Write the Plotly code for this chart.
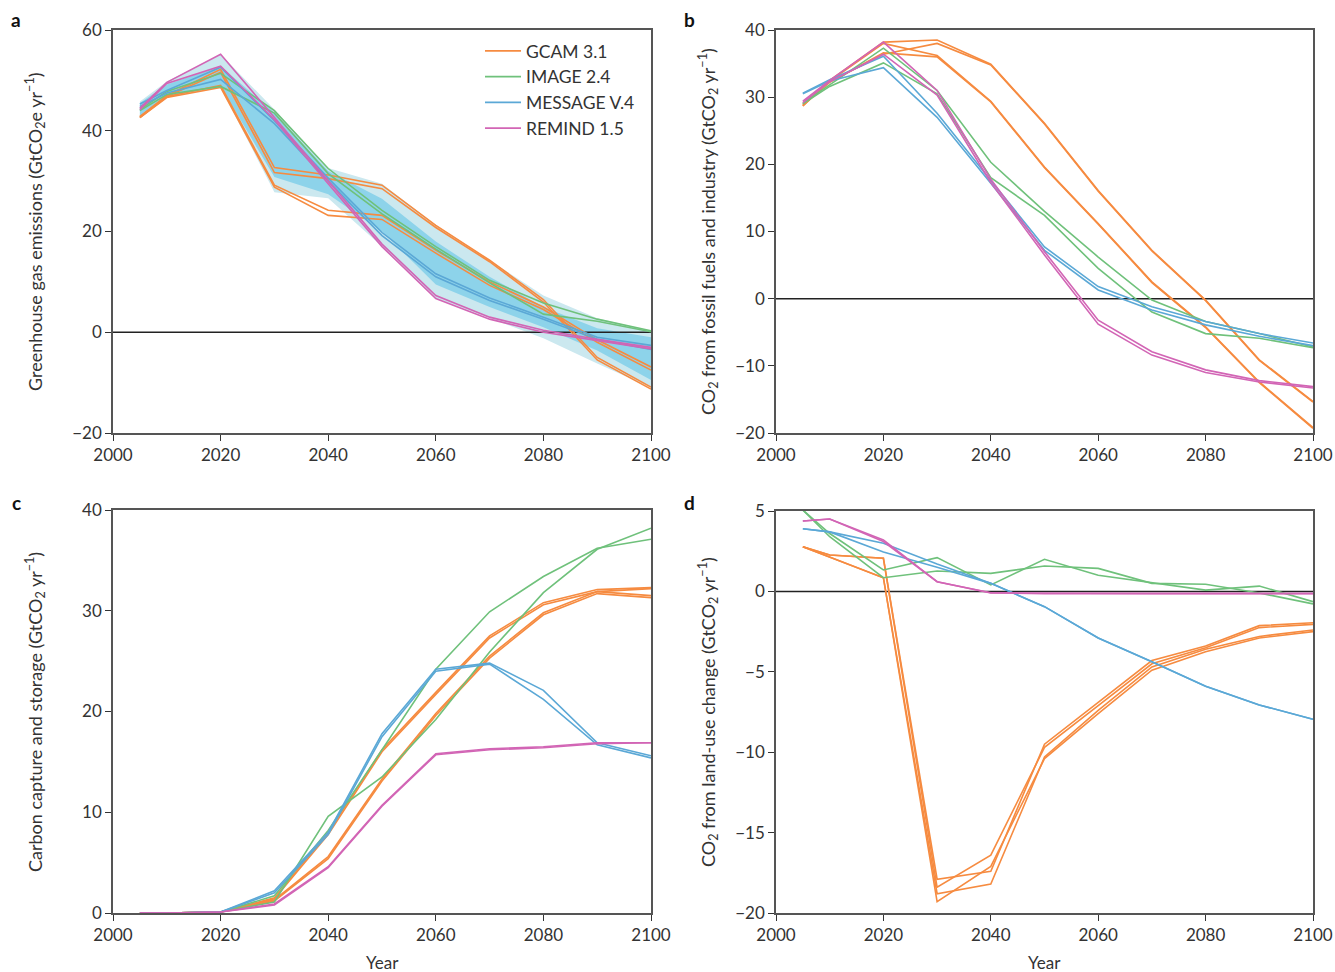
import plotly.graph_objects as go

W, H = 1335, 972

years = [2005, 2010, 2020, 2030, 2040, 2050, 2060, 2070, 2080, 2090, 2100]
models = ["GCAM 3.1", "IMAGE 2.4", "MESSAGE V.4", "REMIND 1.5"]
colors = {"GCAM 3.1": "#f68b40", "IMAGE 2.4": "#6fc17b",
          "MESSAGE V.4": "#5ba8d6", "REMIND 1.5": "#d265b5"}

# ---------------- panel a: GHG emissions ----------------
a_gcam = [
    [42.8, 47.0, 52.2, 32.7, 31.2, 29.2, 21.2, 14.3, 6.5, -5.0, -10.9],
    [42.6, 46.8, 51.6, 31.7, 30.5, 28.5, 20.8, 14.0, 6.0, -5.5, -11.3],
    [42.8, 46.8, 49.0, 29.2, 24.2, 23.2, 16.3, 10.0, 5.0, -1.5, -6.9],
    [42.6, 46.6, 48.6, 28.8, 23.2, 22.4, 15.7, 9.3, 4.5, -2.0, -7.5],
]
a_image = [
    [44.2, 47.8, 51.4, 44.0, 32.5, 24.2, 17.0, 10.3, 5.8, 2.6, 0.3],
    [44.0, 47.2, 48.8, 43.5, 31.5, 23.5, 16.5, 9.8, 3.6, 2.2, 0.1],
]
a_message = [
    [45.3, 48.0, 52.6, 42.0, 30.6, 19.8, 11.6, 6.8, 3.0, -1.0, -2.6],
    [44.8, 47.5, 50.2, 41.4, 30.0, 19.2, 11.0, 6.3, 2.6, -1.4, -3.4],
]
a_remind = [
    [44.5, 49.6, 55.2, 42.7, 30.0, 17.5, 7.3, 3.0, 0.4, -1.4, -3.0],
    [44.2, 49.4, 52.8, 42.2, 29.5, 17.0, 6.7, 2.6, 0.0, -1.6, -3.3],
]
a_outer_hi = [45.8, 49.8, 55.2, 44.2, 32.6, 29.5, 21.3, 14.3, 7.3, 2.8, 0.3]
a_outer_lo = [42.6, 46.6, 48.6, 27.8, 26.6, 17.0, 6.8, 2.8, -1.2, -6.2, -11.0]
a_inner_hi = [45.5, 49.2, 52.8, 43.6, 32.0, 26.5, 18.0, 11.0, 5.0, 0.8, -1.0]
a_inner_lo = [42.8, 46.8, 48.8, 30.8, 27.4, 20.0, 9.5, 5.0, 1.0, -3.6, -9.5]

# ---------------- panel b: CO2 fossil fuels & industry ----------------
b_gcam = [
    [28.7, 32.5, 38.2, 38.5, 34.9, 26.1, 16.1, 7.2, -0.2, -9.1, -15.3],
    [28.9, 32.3, 36.4, 38.0, 34.8, 26.0, 16.0, 7.1, -0.3, -9.2, -15.4],
    [28.7, 32.4, 38.0, 36.2, 29.4, 19.6, 11.2, 2.5, -4.2, -12.4, -19.2],
    [28.9, 32.2, 36.6, 36.0, 29.3, 19.5, 11.1, 2.4, -4.3, -12.5, -19.3],
]
b_image = [
    [29.1, 31.8, 37.3, 31.0, 20.3, 13.0, 6.2, -0.2, -3.4, -5.2, -7.2],
    [29.0, 31.6, 35.1, 30.5, 18.0, 12.4, 4.5, -2.0, -5.2, -5.9, -7.3],
]
b_message = [
    [30.6, 32.6, 36.1, 27.6, 17.6, 7.7, 1.8, -1.2, -3.4, -5.2, -6.6],
    [30.5, 32.4, 34.4, 27.0, 17.2, 7.2, 1.3, -1.7, -3.9, -5.6, -7.0],
]
b_remind = [
    [29.4, 32.5, 38.2, 31.0, 17.8, 7.0, -3.2, -7.9, -10.6, -12.2, -13.1],
    [29.2, 32.3, 36.4, 30.3, 17.3, 6.5, -3.8, -8.4, -11.0, -12.4, -13.3],
]

# ---------------- panel c: CCS ----------------
c_gcam = [
    [0.0, 0.0, 0.1, 1.5, 8.0, 16.2, 21.9, 27.5, 30.8, 32.1, 32.3],
    [0.0, 0.0, 0.1, 1.4, 7.8, 16.0, 21.7, 27.3, 30.6, 31.9, 32.2],
    [0.0, 0.0, 0.1, 1.3, 5.6, 13.3, 19.8, 25.5, 29.8, 31.9, 31.5],
    [0.0, 0.0, 0.1, 1.2, 5.4, 13.1, 19.6, 25.3, 29.6, 31.7, 31.3],
]
c_image = [
    [0.0, 0.0, 0.1, 1.1, 9.6, 13.5, 19.2, 25.9, 31.8, 36.1, 38.2],
    [0.0, 0.0, 0.1, 1.7, 8.2, 16.2, 24.2, 29.9, 33.4, 36.2, 37.1],
]
c_message = [
    [0.0, 0.0, 0.1, 2.2, 8.0, 17.8, 24.2, 24.8, 22.1, 16.9, 15.6],
    [0.0, 0.0, 0.1, 2.0, 7.8, 17.5, 24.0, 24.7, 21.2, 16.7, 15.4],
]
c_remind = [
    [0.0, 0.0, 0.1, 0.9, 4.6, 10.7, 15.8, 16.3, 16.5, 16.9, 16.9],
    [0.0, 0.0, 0.1, 0.8, 4.5, 10.6, 15.7, 16.2, 16.4, 16.8, 16.9],
]

# ---------------- panel d: CO2 land-use change ----------------
d_gcam = [
    [2.78, 2.26, 2.06, -17.9, -17.4, -9.5, -6.9, -4.3, -3.4, -2.13, -1.95],
    [2.78, 2.26, 2.06, -18.4, -16.4, -9.7, -7.1, -4.5, -3.5, -2.25, -2.05],
    [2.78, 2.15, 0.85, -18.8, -18.2, -10.3, -7.4, -4.7, -3.6, -2.8, -2.4],
    [2.78, 2.15, 0.85, -19.3, -17.1, -10.4, -7.6, -4.9, -3.75, -2.9, -2.5],
]
d_image = [
    [5.06, 3.6, 1.33, 2.1, 0.4, 2.0, 1.0, 0.56, 0.08, 0.33, -0.64],
    [5.06, 3.4, 0.85, 1.27, 1.12, 1.58, 1.43, 0.5, 0.44, -0.1, -0.78],
]
d_message = [
    [3.9, 3.7, 3.0, 1.7, 0.5, -0.95, -2.9, -4.37, -5.9, -7.06, -7.95],
    [3.9, 3.7, 2.45, 1.5, 0.5, -0.95, -2.9, -4.37, -5.9, -7.06, -7.95],
]
d_remind = [
    [4.38, 4.5, 3.2, 0.6, -0.08, -0.15, -0.15, -0.15, -0.15, -0.15, -0.15],
    [4.38, 4.5, 3.1, 0.6, -0.1, -0.12, -0.12, -0.12, -0.12, -0.12, -0.12],
]

x_ticks = [2000, 2020, 2040, 2060, 2080, 2100]
a_ticks = [-20, 0, 20, 40, 60]
b_ticks = [-20, -10, 0, 10, 20, 30, 40]
c_ticks = [0, 10, 20, 30, 40]
d_ticks = [-20, -15, -10, -5, 0, 5]

# panel pixel boxes on the page (left, right, top, bottom)
boxes = {
    1: (113, 651, 30, 433),
    2: (776, 1313, 30, 433),
    3: (113, 651, 510, 913),
    4: (776, 1313, 511, 913),
}

def px(x):
    return x / W

def py(y):
    return 1 - y / H

fig = go.Figure()

def ax(n):
    return ("x" if n == 1 else f"x{n}", "y" if n == 1 else f"y{n}")

def add_band(n, lo, hi, color):
    xa, ya = ax(n)
    fig.add_trace(go.Scatter(x=years, y=lo, mode="lines", line=dict(width=0),
                             showlegend=False, hoverinfo="skip", xaxis=xa, yaxis=ya))
    fig.add_trace(go.Scatter(x=years, y=hi, mode="lines", line=dict(width=0),
                             fill="tonexty", fillcolor=color, showlegend=False,
                             hoverinfo="skip", xaxis=xa, yaxis=ya))

def add_zero(n):
    xa, ya = ax(n)
    fig.add_trace(go.Scatter(x=[2000, 2100], y=[0, 0], mode="lines",
                             line=dict(color="#222222", width=1.5),
                             showlegend=False, hoverinfo="skip", xaxis=xa, yaxis=ya))

def add_lines(n, data, legend=False):
    xa, ya = ax(n)
    for m in models:
        for i, series in enumerate(data[m]):
            fig.add_trace(go.Scatter(
                x=years, y=series, mode="lines", name=m, legendgroup=m,
                showlegend=(legend and i == 0),
                line=dict(color=colors[m], width=1.6),
                xaxis=xa, yaxis=ya))

add_band(1, a_outer_lo, a_outer_hi, "#cbe8ef")
add_band(1, a_inner_lo, a_inner_hi, "#8dd3ea")
add_zero(1)
add_lines(1, {"GCAM 3.1": a_gcam, "IMAGE 2.4": a_image,
              "MESSAGE V.4": a_message, "REMIND 1.5": a_remind}, legend=True)
add_zero(2)
add_lines(2, {"GCAM 3.1": b_gcam, "IMAGE 2.4": b_image,
              "MESSAGE V.4": b_message, "REMIND 1.5": b_remind})
add_lines(3, {"GCAM 3.1": c_gcam, "IMAGE 2.4": c_image,
              "MESSAGE V.4": c_message, "REMIND 1.5": c_remind})
add_zero(4)
add_lines(4, {"GCAM 3.1": d_gcam, "IMAGE 2.4": d_image,
              "MESSAGE V.4": d_message, "REMIND 1.5": d_remind})

font_family = "Lato, 'Open Sans', sans-serif"
tick_font = dict(family=font_family, size=17, color="#333333")

yranges = {1: [-20, 60], 2: [-20, 40], 3: [0, 40], 4: [-20, 5]}
yticks = {1: a_ticks, 2: b_ticks, 3: c_ticks, 4: d_ticks}

layout = {}
for n, (l, r, t, b) in boxes.items():
    xkey = "xaxis" if n == 1 else f"xaxis{n}"
    ykey = "yaxis" if n == 1 else f"yaxis{n}"
    xa, ya = ax(n)
    common = dict(showgrid=False, zeroline=False, showline=True, mirror=True,
                  linecolor="#555555", linewidth=1.5, ticks="outside",
                  ticklen=6, tickwidth=1.2, tickcolor="#333333",
                  tickfont=tick_font, automargin=False)
    layout[xkey] = dict(domain=[px(l), px(r)], range=[2000, 2100],
                        tickvals=x_ticks, anchor=ya, **common)
    layout[ykey] = dict(domain=[py(b), py(t)], range=yranges[n],
                        tickvals=yticks[n], anchor=xa, **common)

ylabels = [
    (35, 232, "Greenhouse gas emissions (GtCO<sub>2</sub>e yr<sup>\u22121</sup>)"),
    (708, 232, "CO<sub>2</sub> from fossil fuels and industry (GtCO<sub>2</sub> yr<sup>\u22121</sup>)"),
    (35, 712, "Carbon capture and storage (GtCO<sub>2</sub> yr<sup>\u22121</sup>)"),
    (708, 712, "CO<sub>2</sub> from land-use change (GtCO<sub>2</sub> yr<sup>\u22121</sup>)"),
]
annotations = []
for x, y, txt in ylabels:
    annotations.append(dict(x=px(x), y=py(y), xref="paper", yref="paper",
                            text=txt, textangle=-90, showarrow=False,
                            font=dict(family=font_family, size=18, color="#333333"),
                            xanchor="center", yanchor="middle"))
for x, y, txt in [(382, 962, "Year"), (1044, 962, "Year")]:
    annotations.append(dict(x=px(x), y=py(y), xref="paper", yref="paper",
                            text=txt, showarrow=False,
                            font=dict(family=font_family, size=17, color="#333333"),
                            xanchor="center", yanchor="middle"))
for x, y, txt in [(16, 19, "a"), (689, 19, "b"), (16, 502, "c"), (689, 502, "d")]:
    annotations.append(dict(x=px(x), y=py(y), xref="paper", yref="paper",
                            text=f"<b>{txt}</b>", showarrow=False,
                            font=dict(family=font_family, size=19, color="#111111"),
                            xanchor="center", yanchor="middle"))

fig.update_layout(
    width=W, height=H, margin=dict(l=0, r=0, t=0, b=0, pad=0, autoexpand=False),
    paper_bgcolor="white", plot_bgcolor="white",
    showlegend=True,
    legend=dict(x=px(480), y=py(33), xanchor="left", yanchor="top",
                bgcolor="rgba(0,0,0,0)",
                font=dict(family=font_family, size=17.5, color="#333333"),
                tracegroupgap=0, itemwidth=36),
    annotations=annotations,
    **layout,
)

fig.write_html(
    "out.html",
    config={"displayModeBar": False},
    post_script=("document.body.style.margin='0';"
                 "document.body.style.overflow='hidden';"
                 "document.documentElement.style.overflow='hidden';"),
)
